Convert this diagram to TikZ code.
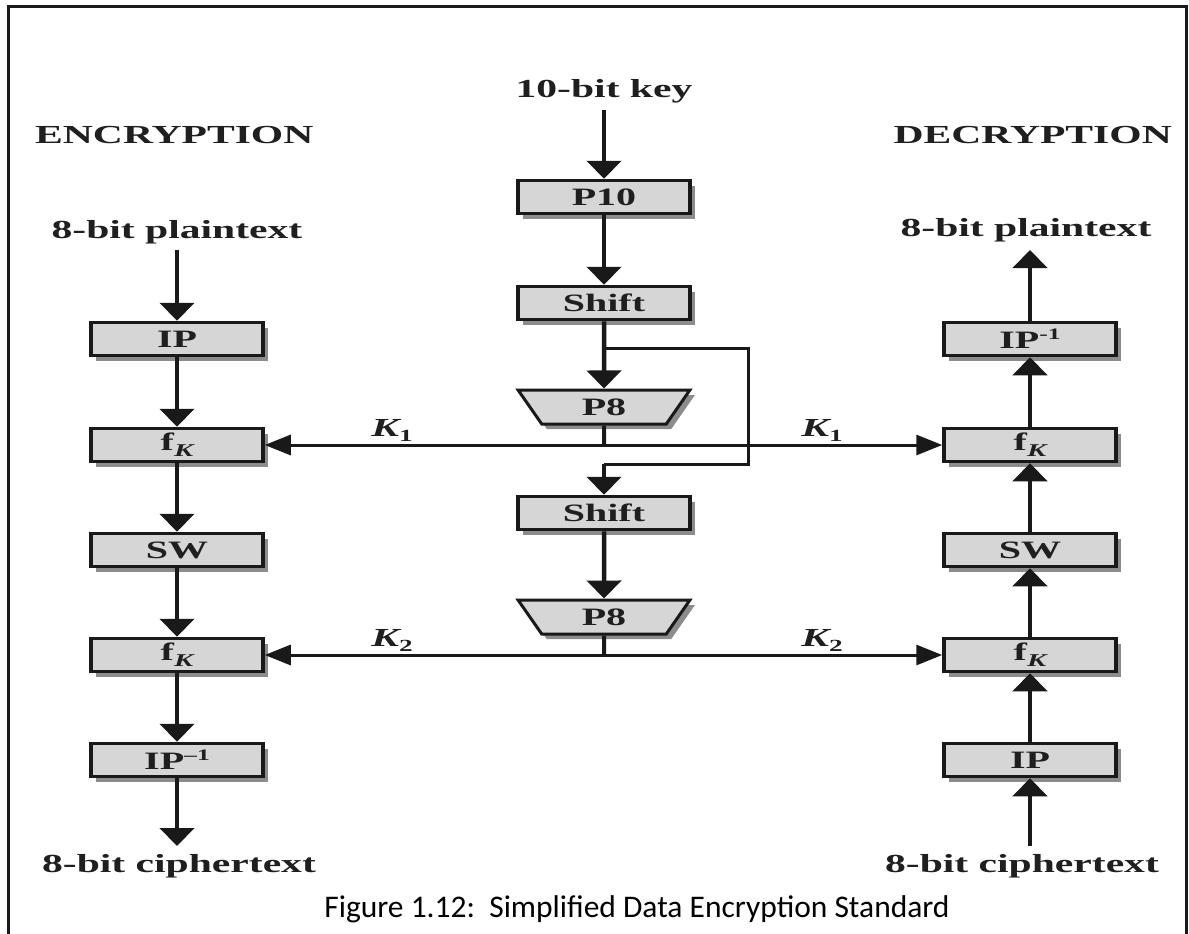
\documentclass[tikz,border=0pt]{standalone}
\usepackage{fontspec}
\setmainfont{Liberation Serif}
\newfontfamily\dfont{Liberation Serif}[FakeStretch=1.6]
\newfontfamily\capfont{Carlito}
\usetikzlibrary{arrows.meta,shapes.geometric}
\tikzset{
  txt/.style={font=\dfont\bfseries\fontsize{26}{30}\selectfont, text=black!88, inner sep=0pt, anchor=base},
  klab/.style={font=\dfont\bfseries\itshape\fontsize{26}{30}\selectfont, text=black!88, inner sep=0pt, anchor=base},
  boxshadow/.style={preaction={fill=black!45, transform canvas={shift={(5pt,-5pt)}}}},
  blk/.style={boxshadow, draw=black!90, line width=3.5pt, fill=black!16, minimum width=172pt, minimum height=33pt, inner sep=0pt, font=\dfont\bfseries\fontsize{25}{28}\selectfont, text=black!88},
  trap/.style={boxshadow, trapezium, trapezium stretches=true, trapezium angle=63.4, shape border rotate=180, draw=black!90, line width=3pt, fill=black!16, minimum width=172pt, minimum height=34pt, inner sep=0pt, font=\dfont\bfseries\fontsize{25}{28}\selectfont, text=black!88},
  arr/.style={draw=black!90, line width=4.5pt, -{Triangle[length=18pt,width=34pt]}},
  karr/.style={draw=black!90, line width=3pt, -{Triangle[length=26pt,width=20pt]}},
  kline/.style={draw=black!90, line width=3pt},
  frame/.style={draw=black!90, line width=3pt}
}
\newcommand\fK{f\raisebox{-6pt}{\itshape\fontsize{18}{18}\selectfont K}}
\newcommand\Ksub[1]{K\raisebox{-5pt}{\upshape\fontsize{17}{17}\selectfont #1}}
\begin{document}
\begin{tikzpicture}[x=1pt,y=-1pt]
\useasboundingbox (0,0) rectangle (1189,934);
\fill[white] (0,0) rectangle (1189,934);
% frame
\coordinate (fa) at (8.5,934);
\coordinate (fb) at (8.5,6.5);
\coordinate (fc) at (1186.5,6.5);
\coordinate (fd) at (1186.5,934);
\draw[frame] (fa) -- (fb) -- (fc) -- (fd);

% headings
\node[txt, anchor=base west] (enc) at (35,143) {ENCRYPTION};
\node[txt, anchor=base east] (dec) at (1172,143) {DECRYPTION};
\node[txt] (key) at (604,97) {10-bit key};
\node[txt] (lpt) at (177,238) {8-bit plaintext};
\node[txt] (rpt) at (1026,236) {8-bit plaintext};
\node[txt] (lct) at (179,872) {8-bit ciphertext};
\node[txt] (rct) at (1022,872) {8-bit ciphertext};

% left column
\node[blk] (lip)  at (177,339) {IP};
\node[blk] (lf1)  at (177,445) {\fK};
\node[blk] (lsw)  at (177,550) {SW};
\node[blk] (lf2)  at (177,655) {\fK};
\node[blk] (lipi) at (177,760) {IP\raisebox{9pt}{\fontsize{16}{16}\selectfont \textendash 1}};

% right column
\node[blk] (ripi) at (1030,339) {IP\raisebox{9pt}{\fontsize{16}{16}\selectfont -1}};
\node[blk] (rf1)  at (1030,445) {\fK};
\node[blk] (rsw)  at (1030,550) {SW};
\node[blk] (rf2)  at (1030,655) {\fK};
\node[blk] (rip)  at (1030,760) {IP};

% centre column
\node[blk] (p10) at (604,197) {P10};
\node[blk] (sh1) at (604,303) {Shift};
\node[trap] (p8a) at (604,407) {P8};
\node[blk] (sh2) at (604,513) {Shift};
\node[trap] (p8b) at (604,617) {P8};

% coordinates
\coordinate (lin) at (177,250);
\coordinate (lout) at (177,846);
\coordinate (rin) at (1030,846);
\coordinate (rout) at (1030,250);
\coordinate (kin) at (604,110);
\coordinate (br) at (604,348);
\coordinate (b1) at (748,348);
\coordinate (b2) at (748,464);
\coordinate (b3) at (604,464);
\coordinate (k1) at (604,445);
\coordinate (k2) at (604,655);

% encryption flow
\draw[arr] (lin) -- (lip.north);
\draw[arr] (lip.south) -- (lf1.north);
\draw[arr] (lf1.south) -- (lsw.north);
\draw[arr] (lsw.south) -- (lf2.north);
\draw[arr] (lf2.south) -- (lipi.north);
\draw[arr] (lipi.south) -- (lout);

% decryption flow
\draw[arr] (rin) -- (rip.south);
\draw[arr] (rip.north) -- (rf2.south);
\draw[arr] (rf2.north) -- (rsw.south);
\draw[arr] (rsw.north) -- (rf1.south);
\draw[arr] (rf1.north) -- (ripi.south);
\draw[arr] (ripi.north) -- (rout);

% key schedule
\draw[arr] (kin) -- (p10.north);
\draw[arr] (p10.south) -- (sh1.north);
\draw[arr] (sh1.south) -- (p8a.north);
\draw[kline] (br) -- (b1) -- (b2) -- (b3);
\draw[arr] (b3) -- (sh2.north);
\draw[arr] (sh2.south) -- (p8b.north);

% subkeys
\draw[kline, line width=4pt] (p8a.south) -- (k1);
\draw[karr] (k1) -- (lf1.east);
\draw[karr] (k1) -- (rf1.west);
\draw[kline, line width=4pt] (p8b.south) -- (k2);
\draw[karr] (k2) -- (lf2.east);
\draw[karr] (k2) -- (rf2.west);

\node[klab] (k1l) at (392,436) {\Ksub{1}};
\node[klab] (k1r) at (822,436) {\Ksub{1}};
\node[klab] (k2l) at (392,646) {\Ksub{2}};
\node[klab] (k2r) at (822,646) {\Ksub{2}};

% caption
\node[font=\capfont\fontsize{31.5}{36}\selectfont, text=black, inner sep=0pt, anchor=base] (cap) at (637,917) {Figure 1.12:\ \ Simplified Data Encryption Standard};
\end{tikzpicture}
\end{document}
